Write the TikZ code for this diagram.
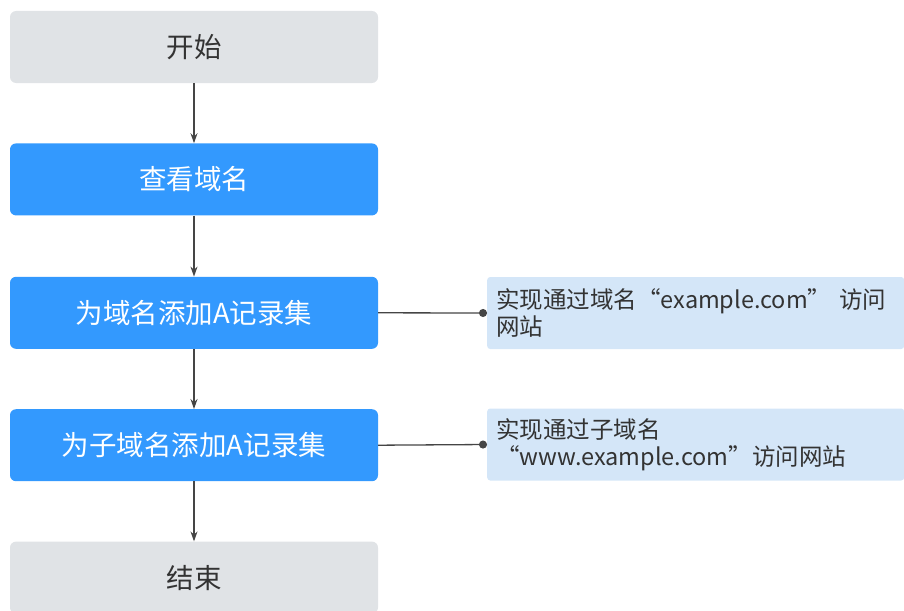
\documentclass[tikz,border=0pt]{standalone}
\usepackage{fontspec}
\setmainfont{Noto Sans CJK SC}
\usetikzlibrary{positioning,arrows.meta}
\definecolor{stepgray}{HTML}{E0E3E6}
\definecolor{stepblue}{HTML}{3399FE}
\definecolor{noteblue}{HTML}{D4E6F8}
\definecolor{linegray}{HTML}{454545}
\definecolor{textgray}{HTML}{333333}

\begin{document}
\begin{tikzpicture}[x=1pt,y=-1pt]
    \tikzstyle{flow}=[rectangle,rounded corners=6pt,minimum width=368pt,minimum height=72pt,inner sep=0pt,font=\fontsize{27.5}{33}\selectfont]
    \tikzstyle{endpoint}=[flow,fill=stepgray,text=textgray]
    \tikzstyle{task}=[flow,fill=stepblue,text=white]
    \tikzstyle{note}=[rectangle,rounded corners=3pt,fill=noteblue,text=textgray,minimum height=72pt,text width=399pt,inner xsep=9pt,align=left,font=\fontsize{23.5}{27.5}\selectfont]
    \tikzstyle{flowarrow}=[draw=linegray,line width=1.3pt,-{Stealth[length=10pt,width=7pt]}]
    \tikzstyle{link}=[draw=linegray,line width=1.3pt,-{Circle[length=8pt]}]
    \useasboundingbox (0,0) rectangle (904,610);
    \node[endpoint] (start) at (194,47) {开始};
    \node[task,below=60pt of start] (view) {查看域名};
    \node[task,below=61pt of view] (addA) {为域名添加A记录集};
    \node[task,below=60pt of addA] (addSub) {为子域名添加A记录集};
    \node[endpoint,below=60pt of addSub] (finish) {结束};
    \node[note,anchor=west] (noteA) at (487,313) {实现通过域名“example.com” 访问\\网站};
    \node[note,anchor=west] (noteSub) at (487,444.5) {实现通过子域名\\ “www.example.com”访问网站};
    % flow
    \draw[flowarrow] (start) -- (view);
    \draw[flowarrow] (view) -- (addA);
    \draw[flowarrow] (addA) -- (addSub);
    \draw[flowarrow] (addSub) -- (finish);
    % notes
    \draw[link] (addA.east) -- (noteA.west);
    \draw[link] (addSub.east) -- (noteSub.west);
\end{tikzpicture}
\end{document}
